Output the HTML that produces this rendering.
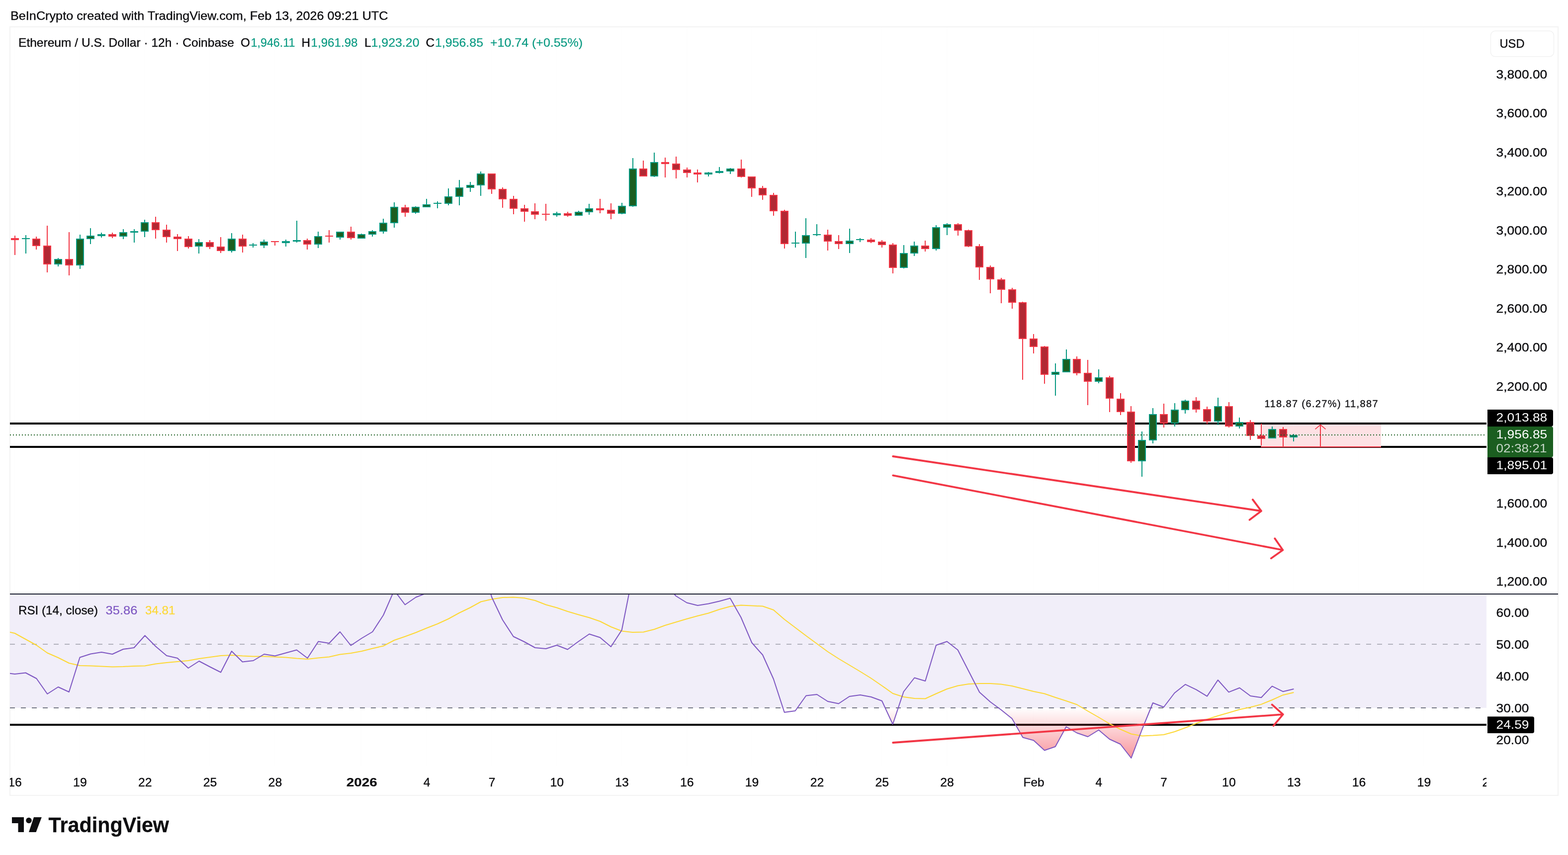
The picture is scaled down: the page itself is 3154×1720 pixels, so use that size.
<!DOCTYPE html>
<html lang="en"><head><meta charset="utf-8"><title>ETHUSD chart</title>
<style>html,body{margin:0;padding:0;background:#fff}body{width:3154px;height:1720px;overflow:hidden}</style></head>
<body>
<svg width="3154" height="1720" viewBox="0 0 3154 1720" font-family='"Liberation Sans", Arial, Helvetica, sans-serif' style="display:block">
<defs>
<clipPath id="cp-main"><rect x="20" y="55" width="2970" height="1139"/></clipPath>
<clipPath id="cp-rsi"><rect x="20" y="1196" width="2970" height="344"/></clipPath>
<clipPath id="cp-time"><rect x="20" y="1540" width="2970" height="60"/></clipPath>
<linearGradient id="os" gradientUnits="userSpaceOnUse" x1="0" y1="1424" x2="0" y2="1616"><stop offset="0" stop-color="#f23645" stop-opacity="0"/><stop offset="1" stop-color="#f23645" stop-opacity="1"/></linearGradient>
</defs>
<rect width="3154" height="1720" fill="#ffffff"/>
<rect x="20" y="54" width="3114" height="1546" fill="#ffffff" stroke="#f3f3f3" stroke-width="2"/>
<rect x="29" y="55" width="1" height="1139" fill="#fcfcfc"/>
<rect x="29" y="1424" width="1" height="116" fill="#fcfcfc"/>
<rect x="160" y="55" width="1" height="1139" fill="#fcfcfc"/>
<rect x="160" y="1424" width="1" height="116" fill="#fcfcfc"/>
<rect x="290" y="55" width="1" height="1139" fill="#fcfcfc"/>
<rect x="290" y="1424" width="1" height="116" fill="#fcfcfc"/>
<rect x="421" y="55" width="1" height="1139" fill="#fcfcfc"/>
<rect x="421" y="1424" width="1" height="116" fill="#fcfcfc"/>
<rect x="552" y="55" width="1" height="1139" fill="#fcfcfc"/>
<rect x="552" y="1424" width="1" height="116" fill="#fcfcfc"/>
<rect x="726" y="55" width="1" height="1139" fill="#fcfcfc"/>
<rect x="726" y="1424" width="1" height="116" fill="#fcfcfc"/>
<rect x="857" y="55" width="1" height="1139" fill="#fcfcfc"/>
<rect x="857" y="1424" width="1" height="116" fill="#fcfcfc"/>
<rect x="988" y="55" width="1" height="1139" fill="#fcfcfc"/>
<rect x="988" y="1424" width="1" height="116" fill="#fcfcfc"/>
<rect x="1119" y="55" width="1" height="1139" fill="#fcfcfc"/>
<rect x="1119" y="1424" width="1" height="116" fill="#fcfcfc"/>
<rect x="1250" y="55" width="1" height="1139" fill="#fcfcfc"/>
<rect x="1250" y="1424" width="1" height="116" fill="#fcfcfc"/>
<rect x="1381" y="55" width="1" height="1139" fill="#fcfcfc"/>
<rect x="1381" y="1424" width="1" height="116" fill="#fcfcfc"/>
<rect x="1511" y="55" width="1" height="1139" fill="#fcfcfc"/>
<rect x="1511" y="1424" width="1" height="116" fill="#fcfcfc"/>
<rect x="1642" y="55" width="1" height="1139" fill="#fcfcfc"/>
<rect x="1642" y="1424" width="1" height="116" fill="#fcfcfc"/>
<rect x="1773" y="55" width="1" height="1139" fill="#fcfcfc"/>
<rect x="1773" y="1424" width="1" height="116" fill="#fcfcfc"/>
<rect x="1904" y="55" width="1" height="1139" fill="#fcfcfc"/>
<rect x="1904" y="1424" width="1" height="116" fill="#fcfcfc"/>
<rect x="2078" y="55" width="1" height="1139" fill="#fcfcfc"/>
<rect x="2078" y="1424" width="1" height="116" fill="#fcfcfc"/>
<rect x="2209" y="55" width="1" height="1139" fill="#fcfcfc"/>
<rect x="2209" y="1424" width="1" height="116" fill="#fcfcfc"/>
<rect x="2340" y="55" width="1" height="1139" fill="#fcfcfc"/>
<rect x="2340" y="1424" width="1" height="116" fill="#fcfcfc"/>
<rect x="2471" y="55" width="1" height="1139" fill="#fcfcfc"/>
<rect x="2471" y="1424" width="1" height="116" fill="#fcfcfc"/>
<rect x="2601" y="55" width="1" height="1139" fill="#fcfcfc"/>
<rect x="2601" y="1424" width="1" height="116" fill="#fcfcfc"/>
<rect x="2732" y="55" width="1" height="1139" fill="#fcfcfc"/>
<rect x="2732" y="1424" width="1" height="116" fill="#fcfcfc"/>
<rect x="2863" y="55" width="1" height="1139" fill="#fcfcfc"/>
<rect x="2863" y="1424" width="1" height="116" fill="#fcfcfc"/>
<g clip-path="url(#cp-main)">
<rect x="20" y="850" width="2970" height="4" fill="#000"/>
<rect x="20" y="897" width="2970" height="4" fill="#000"/>
<rect x="2537" y="854" width="241" height="44" fill="#fde1e4"/>
<rect x="2536" y="898" width="242" height="2" fill="#f23645"/>
<rect x="2655" y="855" width="2" height="44" fill="#f23645"/>
<path d="M2645.5 863.3L2656 854.6L2666.5 863.3" fill="none" stroke="#f23645" stroke-width="1.6"/>
<rect x="29" y="474" width="2" height="39" fill="#f23645"/>
<rect x="22" y="479" width="16" height="4" fill="#f23645"/>
<rect x="51" y="473" width="2" height="37" fill="#089981"/>
<rect x="44" y="479" width="16" height="2" fill="#089981"/>
<rect x="72" y="476" width="2" height="26" fill="#f23645"/>
<rect x="65" y="480" width="16" height="15" fill="#f23645"/>
<rect x="67" y="482" width="12" height="11" fill="#b22833"/>
<rect x="94" y="454" width="2" height="94" fill="#f23645"/>
<rect x="87" y="494" width="16" height="38" fill="#f23645"/>
<rect x="89" y="496" width="12" height="34" fill="#b22833"/>
<rect x="116" y="519" width="2" height="17" fill="#089981"/>
<rect x="109" y="521" width="16" height="11" fill="#089981"/>
<rect x="111" y="523" width="12" height="7" fill="#1b5e20"/>
<rect x="138" y="467" width="2" height="87" fill="#f23645"/>
<rect x="131" y="521" width="16" height="13" fill="#f23645"/>
<rect x="133" y="523" width="12" height="9" fill="#b22833"/>
<rect x="160" y="472" width="2" height="69" fill="#089981"/>
<rect x="153" y="480" width="16" height="54" fill="#089981"/>
<rect x="155" y="482" width="12" height="50" fill="#1b5e20"/>
<rect x="181" y="459" width="2" height="32" fill="#089981"/>
<rect x="174" y="474" width="16" height="7" fill="#089981"/>
<rect x="176" y="476" width="12" height="3" fill="#1b5e20"/>
<rect x="203" y="468" width="2" height="10" fill="#089981"/>
<rect x="196" y="471" width="16" height="4" fill="#089981"/>
<rect x="225" y="468" width="2" height="11" fill="#f23645"/>
<rect x="218" y="471" width="16" height="5" fill="#f23645"/>
<rect x="220" y="473" width="12" height="1" fill="#b22833"/>
<rect x="247" y="461" width="2" height="20" fill="#089981"/>
<rect x="240" y="467" width="16" height="9" fill="#089981"/>
<rect x="242" y="469" width="12" height="5" fill="#1b5e20"/>
<rect x="269" y="461" width="2" height="27" fill="#089981"/>
<rect x="262" y="465" width="16" height="3" fill="#089981"/>
<rect x="290" y="442" width="2" height="35" fill="#089981"/>
<rect x="283" y="447" width="16" height="19" fill="#089981"/>
<rect x="285" y="449" width="12" height="15" fill="#1b5e20"/>
<rect x="312" y="436" width="2" height="44" fill="#f23645"/>
<rect x="305" y="447" width="16" height="16" fill="#f23645"/>
<rect x="307" y="449" width="12" height="12" fill="#b22833"/>
<rect x="334" y="452" width="2" height="36" fill="#f23645"/>
<rect x="327" y="462" width="16" height="15" fill="#f23645"/>
<rect x="329" y="464" width="12" height="11" fill="#b22833"/>
<rect x="356" y="471" width="2" height="34" fill="#f23645"/>
<rect x="349" y="476" width="16" height="5" fill="#f23645"/>
<rect x="351" y="478" width="12" height="1" fill="#b22833"/>
<rect x="378" y="475" width="2" height="25" fill="#f23645"/>
<rect x="371" y="480" width="16" height="17" fill="#f23645"/>
<rect x="373" y="482" width="12" height="13" fill="#b22833"/>
<rect x="399" y="481" width="2" height="29" fill="#089981"/>
<rect x="392" y="487" width="16" height="9" fill="#089981"/>
<rect x="394" y="489" width="12" height="5" fill="#1b5e20"/>
<rect x="421" y="483" width="2" height="18" fill="#f23645"/>
<rect x="414" y="487" width="16" height="10" fill="#f23645"/>
<rect x="416" y="489" width="12" height="6" fill="#b22833"/>
<rect x="443" y="477" width="2" height="32" fill="#f23645"/>
<rect x="436" y="496" width="16" height="9" fill="#f23645"/>
<rect x="438" y="498" width="12" height="5" fill="#b22833"/>
<rect x="465" y="469" width="2" height="39" fill="#089981"/>
<rect x="458" y="480" width="16" height="25" fill="#089981"/>
<rect x="460" y="482" width="12" height="21" fill="#1b5e20"/>
<rect x="487" y="472" width="2" height="36" fill="#f23645"/>
<rect x="480" y="480" width="16" height="16" fill="#f23645"/>
<rect x="482" y="482" width="12" height="12" fill="#b22833"/>
<rect x="508" y="489" width="2" height="9" fill="#089981"/>
<rect x="501" y="492" width="16" height="2" fill="#089981"/>
<rect x="530" y="482" width="2" height="17" fill="#089981"/>
<rect x="523" y="486" width="16" height="8" fill="#089981"/>
<rect x="525" y="488" width="12" height="4" fill="#1b5e20"/>
<rect x="552" y="485" width="2" height="9" fill="#f23645"/>
<rect x="545" y="485" width="16" height="2" fill="#f23645"/>
<rect x="574" y="482" width="2" height="14" fill="#089981"/>
<rect x="567" y="485" width="16" height="4" fill="#089981"/>
<rect x="596" y="444" width="2" height="44" fill="#089981"/>
<rect x="589" y="483" width="16" height="3" fill="#089981"/>
<rect x="617" y="480" width="2" height="22" fill="#f23645"/>
<rect x="610" y="483" width="16" height="9" fill="#f23645"/>
<rect x="612" y="485" width="12" height="5" fill="#b22833"/>
<rect x="639" y="466" width="2" height="33" fill="#089981"/>
<rect x="632" y="475" width="16" height="17" fill="#089981"/>
<rect x="634" y="477" width="12" height="13" fill="#1b5e20"/>
<rect x="661" y="463" width="2" height="25" fill="#f23645"/>
<rect x="654" y="474" width="16" height="2" fill="#f23645"/>
<rect x="683" y="466" width="2" height="16" fill="#089981"/>
<rect x="676" y="466" width="16" height="12" fill="#089981"/>
<rect x="678" y="468" width="12" height="8" fill="#1b5e20"/>
<rect x="705" y="456" width="2" height="26" fill="#f23645"/>
<rect x="698" y="466" width="16" height="13" fill="#f23645"/>
<rect x="700" y="468" width="12" height="9" fill="#b22833"/>
<rect x="726" y="470" width="2" height="10" fill="#089981"/>
<rect x="719" y="471" width="16" height="9" fill="#089981"/>
<rect x="721" y="473" width="12" height="5" fill="#1b5e20"/>
<rect x="748" y="463" width="2" height="13" fill="#089981"/>
<rect x="741" y="465" width="16" height="7" fill="#089981"/>
<rect x="743" y="467" width="12" height="3" fill="#1b5e20"/>
<rect x="770" y="440" width="2" height="30" fill="#089981"/>
<rect x="763" y="448" width="16" height="18" fill="#089981"/>
<rect x="765" y="450" width="12" height="14" fill="#1b5e20"/>
<rect x="792" y="407" width="2" height="51" fill="#089981"/>
<rect x="785" y="416" width="16" height="33" fill="#089981"/>
<rect x="787" y="418" width="12" height="29" fill="#1b5e20"/>
<rect x="814" y="412" width="2" height="24" fill="#f23645"/>
<rect x="807" y="417" width="16" height="11" fill="#f23645"/>
<rect x="809" y="419" width="12" height="7" fill="#b22833"/>
<rect x="835" y="415" width="2" height="15" fill="#089981"/>
<rect x="828" y="416" width="16" height="12" fill="#089981"/>
<rect x="830" y="418" width="12" height="8" fill="#1b5e20"/>
<rect x="857" y="400" width="2" height="17" fill="#089981"/>
<rect x="850" y="411" width="16" height="6" fill="#089981"/>
<rect x="852" y="413" width="12" height="2" fill="#1b5e20"/>
<rect x="879" y="405" width="2" height="14" fill="#089981"/>
<rect x="872" y="408" width="16" height="2" fill="#089981"/>
<rect x="901" y="379" width="2" height="34" fill="#089981"/>
<rect x="894" y="395" width="16" height="15" fill="#089981"/>
<rect x="896" y="397" width="12" height="11" fill="#1b5e20"/>
<rect x="923" y="362" width="2" height="51" fill="#089981"/>
<rect x="916" y="377" width="16" height="19" fill="#089981"/>
<rect x="918" y="379" width="12" height="15" fill="#1b5e20"/>
<rect x="945" y="366" width="2" height="20" fill="#089981"/>
<rect x="938" y="372" width="16" height="6" fill="#089981"/>
<rect x="940" y="374" width="12" height="2" fill="#1b5e20"/>
<rect x="966" y="345" width="2" height="49" fill="#089981"/>
<rect x="959" y="349" width="16" height="24" fill="#089981"/>
<rect x="961" y="351" width="12" height="20" fill="#1b5e20"/>
<rect x="988" y="349" width="2" height="41" fill="#f23645"/>
<rect x="981" y="349" width="16" height="32" fill="#f23645"/>
<rect x="983" y="351" width="12" height="28" fill="#b22833"/>
<rect x="1010" y="377" width="2" height="41" fill="#f23645"/>
<rect x="1003" y="380" width="16" height="21" fill="#f23645"/>
<rect x="1005" y="382" width="12" height="17" fill="#b22833"/>
<rect x="1032" y="394" width="2" height="37" fill="#f23645"/>
<rect x="1025" y="400" width="16" height="20" fill="#f23645"/>
<rect x="1027" y="402" width="12" height="16" fill="#b22833"/>
<rect x="1054" y="412" width="2" height="34" fill="#f23645"/>
<rect x="1047" y="419" width="16" height="7" fill="#f23645"/>
<rect x="1049" y="421" width="12" height="3" fill="#b22833"/>
<rect x="1075" y="409" width="2" height="32" fill="#f23645"/>
<rect x="1068" y="425" width="16" height="7" fill="#f23645"/>
<rect x="1070" y="427" width="12" height="3" fill="#b22833"/>
<rect x="1097" y="410" width="2" height="34" fill="#f23645"/>
<rect x="1090" y="430" width="16" height="2" fill="#f23645"/>
<rect x="1119" y="426" width="2" height="10" fill="#089981"/>
<rect x="1112" y="429" width="16" height="4" fill="#089981"/>
<rect x="1141" y="426" width="2" height="10" fill="#f23645"/>
<rect x="1134" y="429" width="16" height="5" fill="#f23645"/>
<rect x="1136" y="431" width="12" height="1" fill="#b22833"/>
<rect x="1163" y="424" width="2" height="10" fill="#089981"/>
<rect x="1156" y="426" width="16" height="8" fill="#089981"/>
<rect x="1158" y="428" width="12" height="4" fill="#1b5e20"/>
<rect x="1184" y="410" width="2" height="22" fill="#089981"/>
<rect x="1177" y="419" width="16" height="8" fill="#089981"/>
<rect x="1179" y="421" width="12" height="4" fill="#1b5e20"/>
<rect x="1206" y="400" width="2" height="29" fill="#f23645"/>
<rect x="1199" y="419" width="16" height="4" fill="#f23645"/>
<rect x="1228" y="409" width="2" height="32" fill="#f23645"/>
<rect x="1221" y="422" width="16" height="8" fill="#f23645"/>
<rect x="1223" y="424" width="12" height="4" fill="#b22833"/>
<rect x="1250" y="408" width="2" height="23" fill="#089981"/>
<rect x="1243" y="414" width="16" height="16" fill="#089981"/>
<rect x="1245" y="416" width="12" height="12" fill="#1b5e20"/>
<rect x="1272" y="318" width="2" height="98" fill="#089981"/>
<rect x="1265" y="339" width="16" height="76" fill="#089981"/>
<rect x="1267" y="341" width="12" height="72" fill="#1b5e20"/>
<rect x="1293" y="323" width="2" height="32" fill="#f23645"/>
<rect x="1286" y="339" width="16" height="16" fill="#f23645"/>
<rect x="1288" y="341" width="12" height="12" fill="#b22833"/>
<rect x="1315" y="307" width="2" height="49" fill="#089981"/>
<rect x="1308" y="326" width="16" height="29" fill="#089981"/>
<rect x="1310" y="328" width="12" height="25" fill="#1b5e20"/>
<rect x="1337" y="317" width="2" height="40" fill="#f23645"/>
<rect x="1330" y="326" width="16" height="4" fill="#f23645"/>
<rect x="1359" y="315" width="2" height="44" fill="#f23645"/>
<rect x="1352" y="329" width="16" height="13" fill="#f23645"/>
<rect x="1354" y="331" width="12" height="9" fill="#b22833"/>
<rect x="1381" y="337" width="2" height="20" fill="#f23645"/>
<rect x="1374" y="341" width="16" height="7" fill="#f23645"/>
<rect x="1376" y="343" width="12" height="3" fill="#b22833"/>
<rect x="1402" y="341" width="2" height="26" fill="#f23645"/>
<rect x="1395" y="347" width="16" height="4" fill="#f23645"/>
<rect x="1424" y="346" width="2" height="9" fill="#089981"/>
<rect x="1417" y="347" width="16" height="4" fill="#089981"/>
<rect x="1446" y="336" width="2" height="13" fill="#089981"/>
<rect x="1439" y="344" width="16" height="4" fill="#089981"/>
<rect x="1468" y="338" width="2" height="12" fill="#089981"/>
<rect x="1461" y="339" width="16" height="6" fill="#089981"/>
<rect x="1463" y="341" width="12" height="2" fill="#1b5e20"/>
<rect x="1490" y="321" width="2" height="36" fill="#f23645"/>
<rect x="1483" y="339" width="16" height="17" fill="#f23645"/>
<rect x="1485" y="341" width="12" height="13" fill="#b22833"/>
<rect x="1511" y="355" width="2" height="41" fill="#f23645"/>
<rect x="1504" y="355" width="16" height="24" fill="#f23645"/>
<rect x="1506" y="357" width="12" height="20" fill="#b22833"/>
<rect x="1533" y="374" width="2" height="28" fill="#f23645"/>
<rect x="1526" y="378" width="16" height="15" fill="#f23645"/>
<rect x="1528" y="380" width="12" height="11" fill="#b22833"/>
<rect x="1555" y="388" width="2" height="46" fill="#f23645"/>
<rect x="1548" y="392" width="16" height="33" fill="#f23645"/>
<rect x="1550" y="394" width="12" height="29" fill="#b22833"/>
<rect x="1577" y="422" width="2" height="78" fill="#f23645"/>
<rect x="1570" y="424" width="16" height="67" fill="#f23645"/>
<rect x="1572" y="426" width="12" height="63" fill="#b22833"/>
<rect x="1599" y="466" width="2" height="32" fill="#089981"/>
<rect x="1592" y="488" width="16" height="2" fill="#089981"/>
<rect x="1620" y="439" width="2" height="80" fill="#089981"/>
<rect x="1613" y="473" width="16" height="17" fill="#089981"/>
<rect x="1615" y="475" width="12" height="13" fill="#1b5e20"/>
<rect x="1642" y="451" width="2" height="24" fill="#089981"/>
<rect x="1635" y="471" width="16" height="2" fill="#089981"/>
<rect x="1664" y="462" width="2" height="42" fill="#f23645"/>
<rect x="1657" y="472" width="16" height="14" fill="#f23645"/>
<rect x="1659" y="474" width="12" height="10" fill="#b22833"/>
<rect x="1686" y="473" width="2" height="28" fill="#f23645"/>
<rect x="1679" y="485" width="16" height="6" fill="#f23645"/>
<rect x="1681" y="487" width="12" height="2" fill="#b22833"/>
<rect x="1708" y="460" width="2" height="49" fill="#089981"/>
<rect x="1701" y="484" width="16" height="7" fill="#089981"/>
<rect x="1703" y="486" width="12" height="3" fill="#1b5e20"/>
<rect x="1729" y="479" width="2" height="8" fill="#089981"/>
<rect x="1722" y="481" width="16" height="2" fill="#089981"/>
<rect x="1751" y="479" width="2" height="10" fill="#f23645"/>
<rect x="1744" y="482" width="16" height="5" fill="#f23645"/>
<rect x="1746" y="484" width="12" height="1" fill="#b22833"/>
<rect x="1773" y="483" width="2" height="15" fill="#f23645"/>
<rect x="1766" y="486" width="16" height="7" fill="#f23645"/>
<rect x="1768" y="488" width="12" height="3" fill="#b22833"/>
<rect x="1795" y="489" width="2" height="61" fill="#f23645"/>
<rect x="1788" y="492" width="16" height="47" fill="#f23645"/>
<rect x="1790" y="494" width="12" height="43" fill="#b22833"/>
<rect x="1817" y="493" width="2" height="47" fill="#089981"/>
<rect x="1810" y="509" width="16" height="30" fill="#089981"/>
<rect x="1812" y="511" width="12" height="26" fill="#1b5e20"/>
<rect x="1838" y="486" width="2" height="29" fill="#089981"/>
<rect x="1831" y="494" width="16" height="16" fill="#089981"/>
<rect x="1833" y="496" width="12" height="12" fill="#1b5e20"/>
<rect x="1860" y="484" width="2" height="22" fill="#f23645"/>
<rect x="1853" y="494" width="16" height="7" fill="#f23645"/>
<rect x="1855" y="496" width="12" height="3" fill="#b22833"/>
<rect x="1882" y="453" width="2" height="51" fill="#089981"/>
<rect x="1875" y="457" width="16" height="44" fill="#089981"/>
<rect x="1877" y="459" width="12" height="40" fill="#1b5e20"/>
<rect x="1904" y="449" width="2" height="24" fill="#089981"/>
<rect x="1897" y="451" width="16" height="7" fill="#089981"/>
<rect x="1899" y="453" width="12" height="3" fill="#1b5e20"/>
<rect x="1926" y="449" width="2" height="25" fill="#f23645"/>
<rect x="1919" y="451" width="16" height="13" fill="#f23645"/>
<rect x="1921" y="453" width="12" height="9" fill="#b22833"/>
<rect x="1947" y="462" width="2" height="35" fill="#f23645"/>
<rect x="1940" y="463" width="16" height="33" fill="#f23645"/>
<rect x="1942" y="465" width="12" height="29" fill="#b22833"/>
<rect x="1969" y="491" width="2" height="72" fill="#f23645"/>
<rect x="1962" y="495" width="16" height="43" fill="#f23645"/>
<rect x="1964" y="497" width="12" height="39" fill="#b22833"/>
<rect x="1991" y="534" width="2" height="56" fill="#f23645"/>
<rect x="1984" y="537" width="16" height="25" fill="#f23645"/>
<rect x="1986" y="539" width="12" height="21" fill="#b22833"/>
<rect x="2013" y="559" width="2" height="51" fill="#f23645"/>
<rect x="2006" y="562" width="16" height="21" fill="#f23645"/>
<rect x="2008" y="564" width="12" height="17" fill="#b22833"/>
<rect x="2035" y="579" width="2" height="42" fill="#f23645"/>
<rect x="2028" y="582" width="16" height="27" fill="#f23645"/>
<rect x="2030" y="584" width="12" height="23" fill="#b22833"/>
<rect x="2056" y="607" width="2" height="157" fill="#f23645"/>
<rect x="2049" y="608" width="16" height="74" fill="#f23645"/>
<rect x="2051" y="610" width="12" height="70" fill="#b22833"/>
<rect x="2078" y="672" width="2" height="39" fill="#f23645"/>
<rect x="2071" y="681" width="16" height="17" fill="#f23645"/>
<rect x="2073" y="683" width="12" height="13" fill="#b22833"/>
<rect x="2100" y="696" width="2" height="76" fill="#f23645"/>
<rect x="2093" y="697" width="16" height="57" fill="#f23645"/>
<rect x="2095" y="699" width="12" height="53" fill="#b22833"/>
<rect x="2122" y="731" width="2" height="65" fill="#089981"/>
<rect x="2115" y="748" width="16" height="6" fill="#089981"/>
<rect x="2117" y="750" width="12" height="2" fill="#1b5e20"/>
<rect x="2144" y="703" width="2" height="46" fill="#089981"/>
<rect x="2137" y="722" width="16" height="27" fill="#089981"/>
<rect x="2139" y="724" width="12" height="23" fill="#1b5e20"/>
<rect x="2165" y="717" width="2" height="38" fill="#f23645"/>
<rect x="2158" y="722" width="16" height="29" fill="#f23645"/>
<rect x="2160" y="724" width="12" height="25" fill="#b22833"/>
<rect x="2187" y="724" width="2" height="91" fill="#f23645"/>
<rect x="2180" y="750" width="16" height="18" fill="#f23645"/>
<rect x="2182" y="752" width="12" height="14" fill="#b22833"/>
<rect x="2209" y="743" width="2" height="28" fill="#089981"/>
<rect x="2202" y="759" width="16" height="9" fill="#089981"/>
<rect x="2204" y="761" width="12" height="5" fill="#1b5e20"/>
<rect x="2231" y="756" width="2" height="73" fill="#f23645"/>
<rect x="2224" y="759" width="16" height="43" fill="#f23645"/>
<rect x="2226" y="761" width="12" height="39" fill="#b22833"/>
<rect x="2253" y="791" width="2" height="44" fill="#f23645"/>
<rect x="2246" y="802" width="16" height="27" fill="#f23645"/>
<rect x="2248" y="804" width="12" height="23" fill="#b22833"/>
<rect x="2274" y="817" width="2" height="114" fill="#f23645"/>
<rect x="2267" y="828" width="16" height="100" fill="#f23645"/>
<rect x="2269" y="830" width="12" height="96" fill="#b22833"/>
<rect x="2296" y="868" width="2" height="91" fill="#089981"/>
<rect x="2289" y="885" width="16" height="43" fill="#089981"/>
<rect x="2291" y="887" width="12" height="39" fill="#1b5e20"/>
<rect x="2318" y="821" width="2" height="71" fill="#089981"/>
<rect x="2311" y="833" width="16" height="53" fill="#089981"/>
<rect x="2313" y="835" width="12" height="49" fill="#1b5e20"/>
<rect x="2340" y="812" width="2" height="48" fill="#f23645"/>
<rect x="2333" y="833" width="16" height="19" fill="#f23645"/>
<rect x="2335" y="835" width="12" height="15" fill="#b22833"/>
<rect x="2362" y="811" width="2" height="47" fill="#089981"/>
<rect x="2355" y="824" width="16" height="28" fill="#089981"/>
<rect x="2357" y="826" width="12" height="24" fill="#1b5e20"/>
<rect x="2383" y="804" width="2" height="28" fill="#089981"/>
<rect x="2376" y="806" width="16" height="19" fill="#089981"/>
<rect x="2378" y="808" width="12" height="15" fill="#1b5e20"/>
<rect x="2405" y="799" width="2" height="31" fill="#f23645"/>
<rect x="2398" y="806" width="16" height="18" fill="#f23645"/>
<rect x="2400" y="808" width="12" height="14" fill="#b22833"/>
<rect x="2427" y="818" width="2" height="35" fill="#f23645"/>
<rect x="2420" y="823" width="16" height="25" fill="#f23645"/>
<rect x="2422" y="825" width="12" height="21" fill="#b22833"/>
<rect x="2449" y="800" width="2" height="55" fill="#089981"/>
<rect x="2442" y="817" width="16" height="31" fill="#089981"/>
<rect x="2444" y="819" width="12" height="27" fill="#1b5e20"/>
<rect x="2471" y="809" width="2" height="51" fill="#f23645"/>
<rect x="2464" y="817" width="16" height="41" fill="#f23645"/>
<rect x="2466" y="819" width="12" height="37" fill="#b22833"/>
<rect x="2492" y="840" width="2" height="22" fill="#089981"/>
<rect x="2485" y="849" width="16" height="9" fill="#089981"/>
<rect x="2487" y="851" width="12" height="5" fill="#1b5e20"/>
<rect x="2514" y="845" width="2" height="40" fill="#f23645"/>
<rect x="2507" y="849" width="16" height="28" fill="#f23645"/>
<rect x="2509" y="851" width="12" height="24" fill="#b22833"/>
<rect x="2536" y="852" width="2" height="44" fill="#f23645"/>
<rect x="2529" y="876" width="16" height="7" fill="#f23645"/>
<rect x="2531" y="878" width="12" height="3" fill="#b22833"/>
<rect x="2558" y="858" width="2" height="24" fill="#089981"/>
<rect x="2551" y="863" width="16" height="19" fill="#089981"/>
<rect x="2553" y="865" width="12" height="15" fill="#1b5e20"/>
<rect x="2580" y="859" width="2" height="39" fill="#f23645"/>
<rect x="2573" y="863" width="16" height="17" fill="#f23645"/>
<rect x="2575" y="865" width="12" height="13" fill="#b22833"/>
<rect x="2601" y="873" width="2" height="15" fill="#089981"/>
<rect x="2594" y="875" width="16" height="5" fill="#089981"/>
<rect x="2596" y="877" width="12" height="1" fill="#1b5e20"/>
<line x1="20" y1="875" x2="2990" y2="875" stroke="#1b5e20" stroke-width="2" stroke-dasharray="2 4"/>
<path d="M1796.2 918L2537 1028M2519.8 1005L2537 1028L2513.5 1045.8" fill="none" stroke="#f23645" stroke-width="3.8" stroke-linecap="round" stroke-linejoin="round"/>
<path d="M1796.2 956.3L2580.4 1106.5M2564.2 1083.2L2580.4 1106.5L2556.8 1123.2" fill="none" stroke="#f23645" stroke-width="3.8" stroke-linecap="round" stroke-linejoin="round"/>
</g>
<text x="2543.5" y="819" font-size="20" fill="#0c0c0f" stroke="#0c0c0f" stroke-width="0.3" textLength="228" lengthAdjust="spacing">118.87 (6.27%) 11,887</text>
<rect x="20" y="1196" width="2970" height="228" fill="#f1eef9"/>
<g clip-path="url(#cp-rsi)">
<rect x="20" y="1456" width="2970" height="4" fill="#000"/>
<polygon points="1574.8,1424.0 1577.8,1433.0 1599.6,1430.0 1603.8,1424.0" fill="url(#os)"/>
<polygon points="1780.5,1424.0 1795.8,1457.0 1806.8,1424.0" fill="url(#os)"/>
<polygon points="2008.3,1424.0 2013.8,1428.0 2035.6,1445.5 2057.4,1483.5 2079.2,1489.5 2101.0,1509.5 2122.8,1502.0 2144.6,1462.0 2166.4,1474.5 2188.2,1482.0 2210.0,1468.5 2231.8,1487.0 2253.6,1497.0 2275.4,1525.0 2297.2,1467.5 2314.9,1424.0" fill="url(#os)"/>
<line x1="20" y1="1296" x2="2980" y2="1296" stroke="#b2b2bd" stroke-width="2" stroke-dasharray="10 12"/>
<line x1="20" y1="1424" x2="2980" y2="1424" stroke="#777a87" stroke-width="2" stroke-dasharray="10 12"/>
<polyline points="8.0,1269.0 29.8,1274.0 51.6,1286.0 73.4,1298.0 95.2,1313.5 117.0,1323.0 138.8,1334.0 160.6,1339.0 182.4,1339.5 204.2,1340.5 226.0,1341.5 247.8,1341.0 269.6,1340.0 291.5,1339.5 313.3,1335.5 335.1,1333.0 356.9,1331.0 378.7,1329.0 400.5,1325.0 422.3,1322.0 444.1,1319.0 465.9,1318.0 487.7,1319.5 509.5,1320.5 531.3,1320.5 553.1,1321.5 574.9,1322.5 596.7,1324.5 618.5,1326.0 640.3,1323.5 662.1,1321.5 683.9,1316.5 705.7,1314.0 727.5,1310.0 749.3,1304.5 771.1,1299.5 792.9,1288.0 814.7,1280.5 836.5,1272.5 858.3,1263.5 880.1,1255.0 901.9,1245.0 923.7,1233.0 945.5,1222.5 967.3,1210.5 989.1,1205.5 1010.9,1202.0 1032.7,1201.5 1054.5,1203.0 1076.3,1208.0 1098.1,1216.5 1119.9,1222.5 1141.7,1230.0 1163.5,1236.5 1185.3,1242.5 1207.1,1250.0 1228.9,1261.0 1250.7,1269.5 1272.5,1272.0 1294.3,1271.5 1316.1,1266.0 1337.9,1258.0 1359.7,1251.5 1381.5,1245.0 1403.3,1239.0 1425.1,1233.5 1446.9,1226.0 1468.7,1220.0 1490.5,1217.5 1512.3,1218.5 1534.1,1219.5 1555.9,1227.0 1577.8,1246.0 1599.6,1262.5 1621.4,1279.0 1643.2,1295.0 1665.0,1311.0 1686.8,1325.0 1708.6,1338.0 1730.4,1351.0 1752.2,1364.5 1774.0,1379.5 1795.8,1395.0 1817.6,1402.0 1839.4,1405.0 1861.2,1405.5 1883.0,1395.5 1904.8,1386.0 1926.6,1379.5 1948.4,1376.0 1970.2,1375.0 1992.0,1375.0 2013.8,1376.5 2035.6,1380.0 2057.4,1385.5 2079.2,1391.0 2101.0,1395.5 2122.8,1403.0 2144.6,1410.0 2166.4,1417.5 2188.2,1430.5 2210.0,1443.0 2231.8,1456.0 2253.6,1467.0 2275.4,1476.5 2297.2,1480.5 2319.0,1479.5 2340.8,1478.0 2362.6,1472.0 2384.4,1464.0 2406.2,1455.3 2428.0,1447.0 2449.8,1440.0 2471.6,1433.7 2493.4,1427.3 2515.2,1422.7 2537.0,1416.9 2558.8,1408.0 2580.6,1398.2 2602.4,1393.0" fill="none" stroke="#fdd835" stroke-width="2" stroke-linejoin="round"/>
<polyline points="8.0,1353.0 29.8,1356.0 51.6,1353.5 73.4,1365.0 95.2,1396.0 117.0,1382.0 138.8,1392.0 160.6,1322.5 182.4,1315.5 204.2,1312.0 226.0,1316.0 247.8,1306.0 269.6,1303.0 291.5,1278.5 313.3,1300.5 335.1,1319.0 356.9,1324.0 378.7,1344.0 400.5,1330.0 422.3,1341.5 444.1,1352.5 465.9,1310.0 487.7,1331.5 509.5,1329.0 531.3,1316.0 553.1,1319.5 574.9,1313.5 596.7,1307.5 618.5,1324.0 640.3,1290.5 662.1,1294.0 683.9,1271.0 705.7,1298.5 727.5,1284.0 749.3,1271.0 771.1,1237.5 792.9,1187.5 814.7,1216.5 836.5,1201.5 858.3,1193.0 880.1,1180.0 901.9,1165.0 923.7,1155.0 945.5,1165.0 967.3,1125.0 989.1,1201.2 1010.9,1247.0 1032.7,1280.5 1054.5,1291.0 1076.3,1303.0 1098.1,1305.0 1119.9,1298.0 1141.7,1306.5 1163.5,1290.5 1185.3,1275.5 1207.1,1282.5 1228.9,1301.0 1250.7,1267.5 1272.5,1157.5 1294.3,1140.0 1316.1,1130.0 1337.9,1175.5 1359.7,1199.0 1381.5,1212.5 1403.3,1218.0 1425.1,1214.5 1446.9,1209.5 1468.7,1203.5 1490.5,1242.0 1512.3,1293.0 1534.1,1317.5 1555.9,1366.0 1577.8,1433.0 1599.6,1430.0 1621.4,1399.5 1643.2,1397.0 1665.0,1411.0 1686.8,1415.5 1708.6,1401.0 1730.4,1398.0 1752.2,1402.0 1774.0,1410.0 1795.8,1457.0 1817.6,1391.5 1839.4,1363.5 1861.2,1370.0 1883.0,1298.0 1904.8,1290.5 1926.6,1307.5 1948.4,1350.0 1970.2,1392.5 1992.0,1412.0 2013.8,1428.0 2035.6,1445.5 2057.4,1483.5 2079.2,1489.5 2101.0,1509.5 2122.8,1502.0 2144.6,1462.0 2166.4,1474.5 2188.2,1482.0 2210.0,1468.5 2231.8,1487.0 2253.6,1497.0 2275.4,1525.0 2297.2,1467.5 2319.0,1414.0 2340.8,1422.5 2362.6,1394.0 2384.4,1376.8 2406.2,1387.3 2428.0,1400.6 2449.8,1368.0 2471.6,1392.4 2493.4,1383.7 2515.2,1400.0 2537.0,1403.2 2558.8,1380.4 2580.6,1391.2 2602.4,1386.0" fill="none" stroke="#7e57c2" stroke-width="2" stroke-linejoin="round"/>
<path d="M1796.2 1494L2580.8 1437.1M2558.6 1417.4L2580.8 1437.1L2561.6 1460" fill="none" stroke="#f23645" stroke-width="3.8" stroke-linecap="round" stroke-linejoin="round"/>
</g>
<rect x="20" y="1194" width="3114" height="2" fill="#1c2030"/>
<text x="21" y="40" font-size="24.3" fill="#0c0c0f" stroke="#0c0c0f" stroke-width="0.35" textLength="759.5" lengthAdjust="spacingAndGlyphs">BeInCrypto created with TradingView.com, Feb 13, 2026 09:21 UTC</text>
<text x="37" y="94.3" font-size="24.3" fill="#0c0c0f" stroke="#0c0c0f" stroke-width="0.35" textLength="434" lengthAdjust="spacingAndGlyphs">Ethereum / U.S. Dollar · 12h · Coinbase</text>
<text x="484" y="94.3" font-size="24.3" fill="#0c0c0f" stroke="#0c0c0f" stroke-width="0.35">O</text>
<text x="504.5" y="94.3" font-size="24.3" fill="#089981" stroke="#089981" stroke-width="0.2" textLength="89" lengthAdjust="spacingAndGlyphs">1,946.11</text>
<text x="606.5" y="94.3" font-size="24.3" fill="#0c0c0f" stroke="#0c0c0f" stroke-width="0.35">H</text>
<text x="625.5" y="94.3" font-size="24.3" fill="#089981" stroke="#089981" stroke-width="0.2" textLength="94" lengthAdjust="spacingAndGlyphs">1,961.98</text>
<text x="733" y="94.3" font-size="24.3" fill="#0c0c0f" stroke="#0c0c0f" stroke-width="0.35">L</text>
<text x="746.5" y="94.3" font-size="24.3" fill="#089981" stroke="#089981" stroke-width="0.2" textLength="97" lengthAdjust="spacingAndGlyphs">1,923.20</text>
<text x="856.5" y="94.3" font-size="24.3" fill="#0c0c0f" stroke="#0c0c0f" stroke-width="0.35">C</text>
<text x="875" y="94.3" font-size="24.3" fill="#089981" stroke="#089981" stroke-width="0.2" textLength="97" lengthAdjust="spacingAndGlyphs">1,956.85</text>
<text x="986" y="94.3" font-size="24.3" fill="#089981" stroke="#089981" stroke-width="0.2" textLength="186" lengthAdjust="spacingAndGlyphs">+10.74 (+0.55%)</text>
<rect x="2998.5" y="62.3" width="127" height="51.5" rx="9" fill="#fff" stroke="#f1f1f1" stroke-width="1.5"/>
<text x="3016.5" y="95.7" font-size="24.3" fill="#0c0c0f" stroke="#0c0c0f" stroke-width="0.35" textLength="50" lengthAdjust="spacingAndGlyphs">USD</text>
<text x="3009.5" y="157.7" font-size="24.3" fill="#0c0c0f" stroke="#0c0c0f" stroke-width="0.35" textLength="102.8" lengthAdjust="spacingAndGlyphs">3,800.00</text>
<text x="3009.5" y="236.2" font-size="24.3" fill="#0c0c0f" stroke="#0c0c0f" stroke-width="0.35" textLength="102.8" lengthAdjust="spacingAndGlyphs">3,600.00</text>
<text x="3009.5" y="314.7" font-size="24.3" fill="#0c0c0f" stroke="#0c0c0f" stroke-width="0.35" textLength="102.8" lengthAdjust="spacingAndGlyphs">3,400.00</text>
<text x="3009.5" y="393.2" font-size="24.3" fill="#0c0c0f" stroke="#0c0c0f" stroke-width="0.35" textLength="102.8" lengthAdjust="spacingAndGlyphs">3,200.00</text>
<text x="3009.5" y="471.7" font-size="24.3" fill="#0c0c0f" stroke="#0c0c0f" stroke-width="0.35" textLength="102.8" lengthAdjust="spacingAndGlyphs">3,000.00</text>
<text x="3009.5" y="550.2" font-size="24.3" fill="#0c0c0f" stroke="#0c0c0f" stroke-width="0.35" textLength="102.8" lengthAdjust="spacingAndGlyphs">2,800.00</text>
<text x="3009.5" y="628.7" font-size="24.3" fill="#0c0c0f" stroke="#0c0c0f" stroke-width="0.35" textLength="102.8" lengthAdjust="spacingAndGlyphs">2,600.00</text>
<text x="3009.5" y="707.2" font-size="24.3" fill="#0c0c0f" stroke="#0c0c0f" stroke-width="0.35" textLength="102.8" lengthAdjust="spacingAndGlyphs">2,400.00</text>
<text x="3009.5" y="785.7" font-size="24.3" fill="#0c0c0f" stroke="#0c0c0f" stroke-width="0.35" textLength="102.8" lengthAdjust="spacingAndGlyphs">2,200.00</text>
<text x="3009.5" y="1021.2" font-size="24.3" fill="#0c0c0f" stroke="#0c0c0f" stroke-width="0.35" textLength="102.8" lengthAdjust="spacingAndGlyphs">1,600.00</text>
<text x="3009.5" y="1099.7" font-size="24.3" fill="#0c0c0f" stroke="#0c0c0f" stroke-width="0.35" textLength="102.8" lengthAdjust="spacingAndGlyphs">1,400.00</text>
<text x="3009.5" y="1178.2" font-size="24.3" fill="#0c0c0f" stroke="#0c0c0f" stroke-width="0.35" textLength="102.8" lengthAdjust="spacingAndGlyphs">1,200.00</text>
<path d="M2992 824H3120Q3124 824 3124 828V854Q3124 858 3120 858H2992Z" fill="#000"/>
<text x="3009.5" y="847.5" font-size="24.3" fill="#fff" stroke="#fff" stroke-width="0" textLength="102.8" lengthAdjust="spacingAndGlyphs">2,013.88</text>
<path d="M2992 858H3120Q3124 858 3124 862V916Q3124 920 3120 920H2992Z" fill="#1b5e20"/>
<text x="3009.5" y="881.5" font-size="24.3" fill="#fff" stroke="#fff" stroke-width="0" textLength="102.8" lengthAdjust="spacingAndGlyphs">1,956.85</text>
<text x="3009.5" y="909.5" font-size="24.3" fill="#fff" stroke="#fff" stroke-width="0" textLength="102" lengthAdjust="spacingAndGlyphs" fill-opacity="0.75">02:38:21</text>
<path d="M2992 920H3120Q3124 920 3124 924V950Q3124 954 3120 954H2992Z" fill="#000"/>
<text x="3009.5" y="944" font-size="24.3" fill="#fff" stroke="#fff" stroke-width="0" textLength="102.8" lengthAdjust="spacingAndGlyphs">1,895.01</text>
<text x="3009.5" y="1240.6" font-size="24.3" fill="#0c0c0f" stroke="#0c0c0f" stroke-width="0.35" textLength="66" lengthAdjust="spacingAndGlyphs">60.00</text>
<text x="3009.5" y="1304.6" font-size="24.3" fill="#0c0c0f" stroke="#0c0c0f" stroke-width="0.35" textLength="66" lengthAdjust="spacingAndGlyphs">50.00</text>
<text x="3009.5" y="1368.6" font-size="24.3" fill="#0c0c0f" stroke="#0c0c0f" stroke-width="0.35" textLength="66" lengthAdjust="spacingAndGlyphs">40.00</text>
<text x="3009.5" y="1432.6" font-size="24.3" fill="#0c0c0f" stroke="#0c0c0f" stroke-width="0.35" textLength="66" lengthAdjust="spacingAndGlyphs">30.00</text>
<text x="3009.5" y="1496.6" font-size="24.3" fill="#0c0c0f" stroke="#0c0c0f" stroke-width="0.35" textLength="66" lengthAdjust="spacingAndGlyphs">20.00</text>
<path d="M2992 1441.5H3082Q3086 1441.5 3086 1445.5V1471Q3086 1475 3082 1475H2992Z" fill="#000"/>
<text x="3009.5" y="1466" font-size="24.3" fill="#fff" stroke="#fff" stroke-width="0" textLength="66" lengthAdjust="spacingAndGlyphs">24.59</text>
<text x="37" y="1236" font-size="24.3" fill="#0c0c0f" stroke="#0c0c0f" stroke-width="0.35" textLength="160" lengthAdjust="spacingAndGlyphs">RSI (14, close)</text>
<text x="212.5" y="1236" font-size="24.3" fill="#7e57c2" stroke="#7e57c2" stroke-width="0.2" textLength="64" lengthAdjust="spacingAndGlyphs">35.86</text>
<text x="292" y="1236" font-size="24.3" fill="#fdd835" stroke="#fdd835" stroke-width="0.2" textLength="60.5" lengthAdjust="spacingAndGlyphs">34.81</text>
<g clip-path="url(#cp-time)">
<text x="16.3" y="1582" font-size="24.3" fill="#0c0c0f" stroke="#0c0c0f" stroke-width="0.35" textLength="27.6" lengthAdjust="spacingAndGlyphs">16</text>
<text x="147.1" y="1582" font-size="24.3" fill="#0c0c0f" stroke="#0c0c0f" stroke-width="0.35" textLength="27.6" lengthAdjust="spacingAndGlyphs">19</text>
<text x="278.0" y="1582" font-size="24.3" fill="#0c0c0f" stroke="#0c0c0f" stroke-width="0.35" textLength="27.6" lengthAdjust="spacingAndGlyphs">22</text>
<text x="408.8" y="1582" font-size="24.3" fill="#0c0c0f" stroke="#0c0c0f" stroke-width="0.35" textLength="27.6" lengthAdjust="spacingAndGlyphs">25</text>
<text x="539.6" y="1582" font-size="24.3" fill="#0c0c0f" stroke="#0c0c0f" stroke-width="0.35" textLength="27.6" lengthAdjust="spacingAndGlyphs">28</text>
<text x="696.8" y="1582" font-size="24.3" font-weight="bold" fill="#0c0c0f" stroke="#0c0c0f" stroke-width="0.2" textLength="62" lengthAdjust="spacingAndGlyphs">2026</text>
<text x="858.6" y="1582" font-size="24.3" fill="#0c0c0f" stroke="#0c0c0f" stroke-width="0.35" text-anchor="middle">4</text>
<text x="989.4" y="1582" font-size="24.3" fill="#0c0c0f" stroke="#0c0c0f" stroke-width="0.35" text-anchor="middle">7</text>
<text x="1106.4" y="1582" font-size="24.3" fill="#0c0c0f" stroke="#0c0c0f" stroke-width="0.35" textLength="27.6" lengthAdjust="spacingAndGlyphs">10</text>
<text x="1237.2" y="1582" font-size="24.3" fill="#0c0c0f" stroke="#0c0c0f" stroke-width="0.35" textLength="27.6" lengthAdjust="spacingAndGlyphs">13</text>
<text x="1368.0" y="1582" font-size="24.3" fill="#0c0c0f" stroke="#0c0c0f" stroke-width="0.35" textLength="27.6" lengthAdjust="spacingAndGlyphs">16</text>
<text x="1498.8" y="1582" font-size="24.3" fill="#0c0c0f" stroke="#0c0c0f" stroke-width="0.35" textLength="27.6" lengthAdjust="spacingAndGlyphs">19</text>
<text x="1629.7" y="1582" font-size="24.3" fill="#0c0c0f" stroke="#0c0c0f" stroke-width="0.35" textLength="27.6" lengthAdjust="spacingAndGlyphs">22</text>
<text x="1760.5" y="1582" font-size="24.3" fill="#0c0c0f" stroke="#0c0c0f" stroke-width="0.35" textLength="27.6" lengthAdjust="spacingAndGlyphs">25</text>
<text x="1891.3" y="1582" font-size="24.3" fill="#0c0c0f" stroke="#0c0c0f" stroke-width="0.35" textLength="27.6" lengthAdjust="spacingAndGlyphs">28</text>
<text x="2079.5" y="1582" font-size="24.3" fill="#0c0c0f" stroke="#0c0c0f" stroke-width="0.35" text-anchor="middle">Feb</text>
<text x="2210.3" y="1582" font-size="24.3" fill="#0c0c0f" stroke="#0c0c0f" stroke-width="0.35" text-anchor="middle">4</text>
<text x="2341.1" y="1582" font-size="24.3" fill="#0c0c0f" stroke="#0c0c0f" stroke-width="0.35" text-anchor="middle">7</text>
<text x="2458.1" y="1582" font-size="24.3" fill="#0c0c0f" stroke="#0c0c0f" stroke-width="0.35" textLength="27.6" lengthAdjust="spacingAndGlyphs">10</text>
<text x="2588.9" y="1582" font-size="24.3" fill="#0c0c0f" stroke="#0c0c0f" stroke-width="0.35" textLength="27.6" lengthAdjust="spacingAndGlyphs">13</text>
<text x="2719.7" y="1582" font-size="24.3" fill="#0c0c0f" stroke="#0c0c0f" stroke-width="0.35" textLength="27.6" lengthAdjust="spacingAndGlyphs">16</text>
<text x="2850.6" y="1582" font-size="24.3" fill="#0c0c0f" stroke="#0c0c0f" stroke-width="0.35" textLength="27.6" lengthAdjust="spacingAndGlyphs">19</text>
<text x="2981.4" y="1582" font-size="24.3" fill="#0c0c0f" stroke="#0c0c0f" stroke-width="0.35" textLength="27.6" lengthAdjust="spacingAndGlyphs">22</text>
</g>
<g fill="#0e0e10">
<path d="M24 1644H48V1674H36.5V1656H24Z"/>
<circle cx="58" cy="1650.5" r="5.8"/>
<path d="M68 1644H83.8L72.5 1674H58Z"/>
</g>
<text x="97.5" y="1674" font-size="42" fill="#0e0e10" stroke="#0e0e10" stroke-width="0.3" textLength="242.5" lengthAdjust="spacingAndGlyphs" font-weight="bold">TradingView</text>
</svg>
</body></html>
